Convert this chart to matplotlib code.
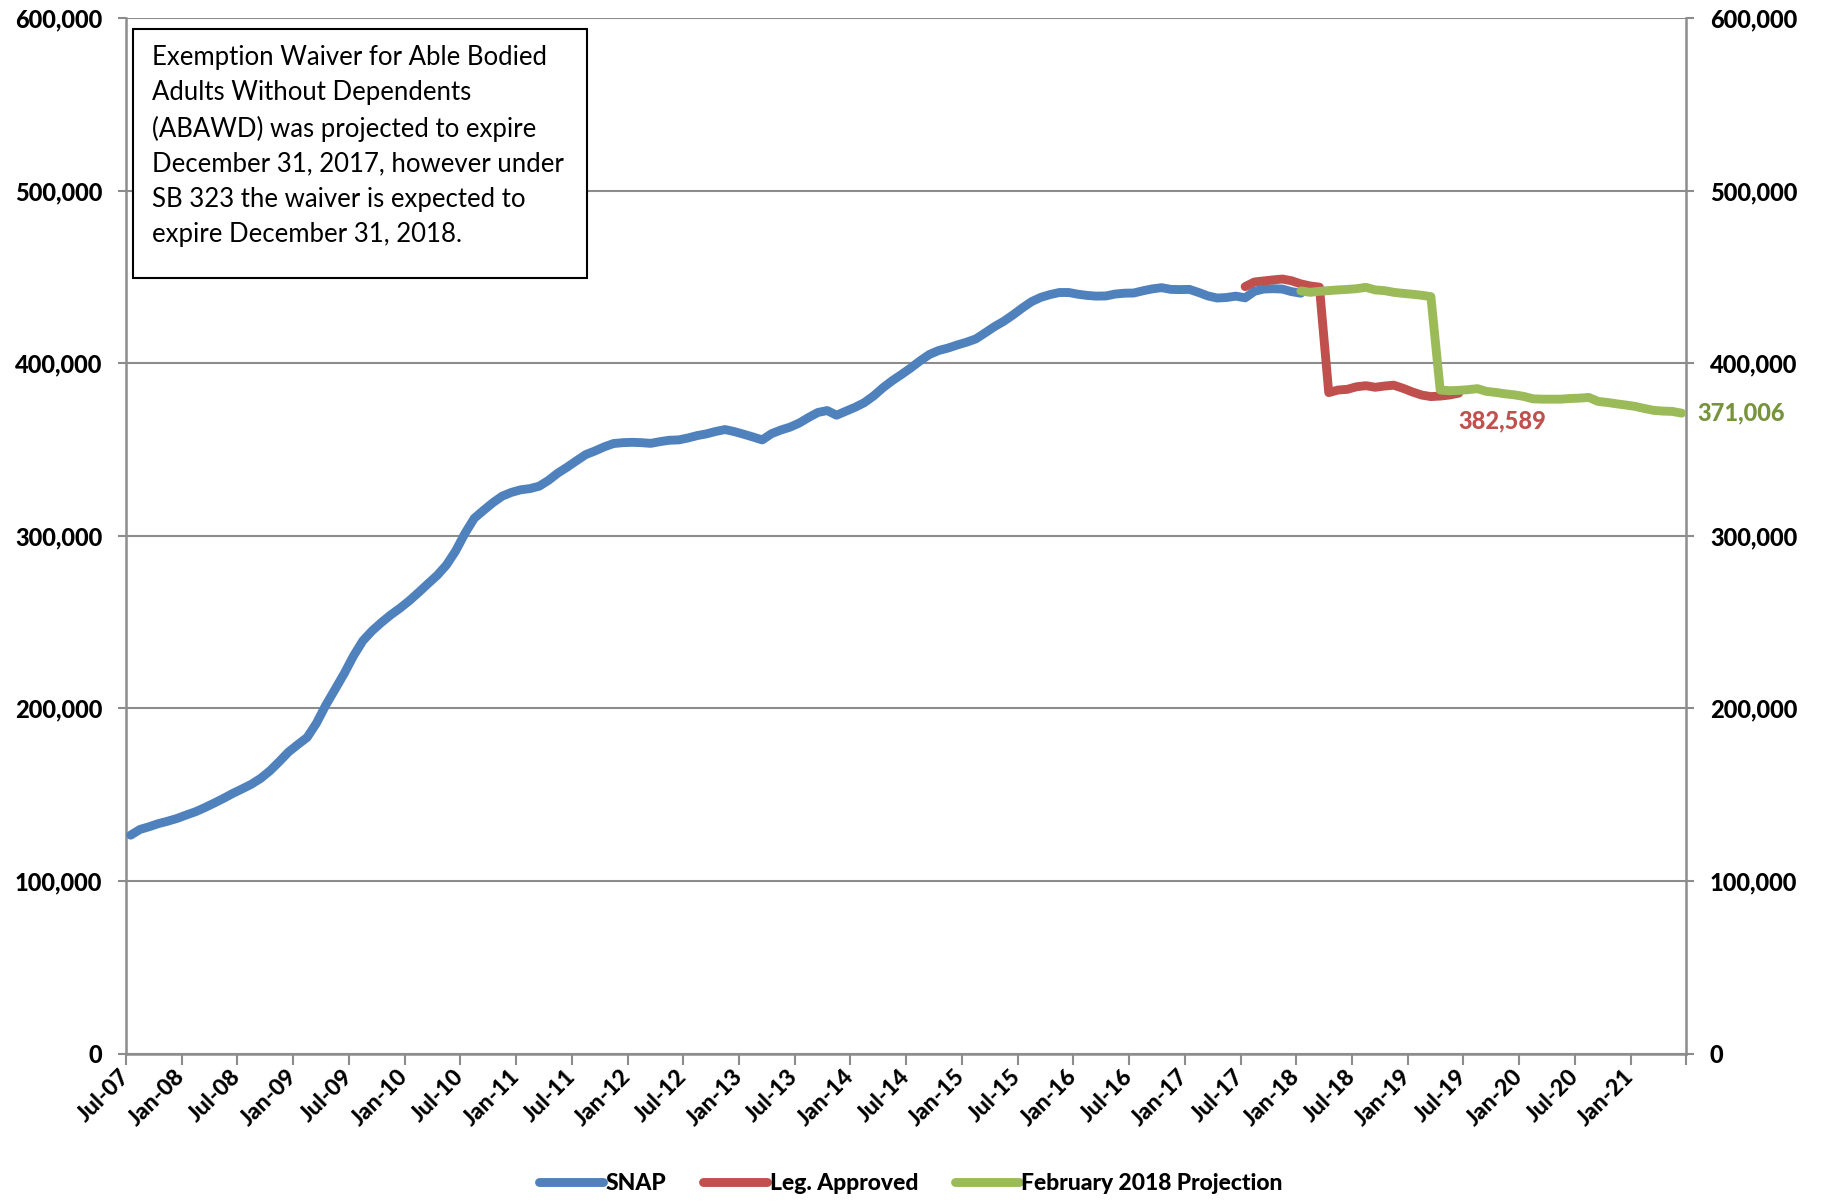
import os

import matplotlib
matplotlib.use("Agg")
import matplotlib.pyplot as plt
import numpy as np
import pandas as pd
from matplotlib import font_manager
from matplotlib.font_manager import FontProperties
from matplotlib.patches import Rectangle
from matplotlib.ticker import FuncFormatter

# monthly categories, Jul-07 .. Jun-21
MONTHS = pd.period_range("2007-07", "2021-06", freq="M")
TICK_LABELS = ["Jul-07", "Jan-08", "Jul-08", "Jan-09", "Jul-09", "Jan-10", "Jul-10",
               "Jan-11", "Jul-11", "Jan-12", "Jul-12", "Jan-13", "Jul-13", "Jan-14",
               "Jul-14", "Jan-15", "Jul-15", "Jan-16", "Jul-16", "Jan-17", "Jul-17",
               "Jan-18", "Jul-18", "Jan-19", "Jul-19", "Jan-20", "Jul-20", "Jan-21", ""]

# SNAP caseload (thousands), Jul-07 .. Jan-18
SNAP_START = "2007-07"
SNAP = [126.5, 129.8, 131.4, 133.2, 134.6, 136.2, 138.2, 140.1, 142.5, 145.1,
        147.8, 150.7, 153.3, 156.0, 159.4, 163.8, 169.1, 174.7, 179.0, 183.1,
        191.3, 201.7, 210.9, 220.2, 230.4, 239.1, 244.9, 249.7, 254.1, 258.0,
        262.3, 267.1, 272.1, 277.0, 283.0, 291.2, 301.4, 310.1, 314.7, 319.1,
        322.9, 325.1, 326.6, 327.3, 328.7, 332.1, 336.3, 339.7, 343.4, 347.0,
        349.1, 351.5, 353.4, 353.9, 354.1, 353.9, 353.5, 354.5, 355.3, 355.5,
        356.6, 358.0, 359.0, 360.4, 361.5, 360.3, 358.8, 357.2, 355.5, 359.1,
        361.2, 362.9, 365.3, 368.5, 371.4, 372.5, 369.8, 372.1, 374.4, 377.1,
        381.0, 385.7, 389.8, 393.4, 397.2, 401.3, 405.0, 407.3, 408.7, 410.5,
        412.1, 414.0, 417.5, 421.1, 424.2, 427.9, 431.9, 435.6, 438.1, 439.7,
        440.9, 440.9, 439.9, 439.2, 438.8, 438.9, 440.0, 440.5, 440.6, 441.9,
        443.0, 443.7, 442.7, 442.6, 442.7, 440.9, 438.9, 437.7, 438.0, 438.8,
        437.8, 441.6, 442.9, 443.1, 442.9, 441.4, 440.5]

# Leg. Approved, Jul-17 .. Jun-19
LEG_START = "2017-07"
LEG = [444.3, 447.0, 447.6, 448.2, 448.7, 447.7, 445.9, 444.7, 444.0, 382.9,
       384.4, 384.8, 386.3, 386.9, 386.0, 386.7, 387.2, 385.4, 383.3, 381.5,
       380.6, 380.9, 381.5, 382.589]

# February 2018 Projection, Jan-18 .. Jun-21
PROJ_START = "2018-01"
PROJ = [441.8, 441.0, 441.6, 442.0, 442.4, 442.7, 443.1, 443.9, 442.4, 442.0,
        441.0, 440.4, 439.9, 439.3, 438.5, 384.4, 384.0, 384.2, 384.6, 385.2,
        383.6, 383.0, 382.2, 381.6, 380.7, 379.3, 379.1, 379.1, 379.1, 379.5,
        379.7, 380.1, 377.8, 377.2, 376.4, 375.7, 374.9, 373.7, 372.6, 372.2,
        372.0, 371.006]

NOTE = ("Exemption Waiver for Able Bodied\n"
        "Adults Without Dependents\n"
        "(ABAWD) was projected to expire\n"
        "December 31, 2017, however under\n"
        "SB 323 the waiver is expected to\n"
        "expire December 31, 2018.")

BLUE = "#4F81BD"
RED = "#C0504D"
GREEN = "#9BBB59"
GREEN_TXT = "#77933C"
GRID = "#8C8C8C"

W, H = 1822, 1202
FONT = "Lato"


def face_file(wanted):
    # Calibri Bold is heavier than Lato Bold, so prefer the Heavy cut
    for base in wanted:
        for f in font_manager.fontManager.ttflist:
            if os.path.basename(f.fname) == base:
                return f.fname
    return font_manager.findfont(FontProperties(family="DejaVu Sans", weight="bold"))


BOLD_PATH = face_file(["Lato-Heavy.ttf", "Lato-ExtraBold.ttf", "Lato-Bold.ttf"])


def bold(size):
    return FontProperties(fname=BOLD_PATH, size=size)


def positions(start, n):
    i0 = MONTHS.get_loc(pd.Period(start, freq="M"))
    return np.arange(i0, i0 + n) + 0.5  # categories sit between tick marks


def fx(px):
    return px / W


def fy(py):
    return 1 - py / H


fig = plt.figure(figsize=(W / 100, H / 100), dpi=100)
fig.set_facecolor("white")
ax = fig.add_axes([fx(126), fy(1053.5), (1686.3 - 126) / W, (1053.5 - 17.9) / H])

lw = 6.4
snap_vals = np.array(SNAP) * 1000
leg_vals = np.array(LEG) * 1000
proj_vals = np.array(PROJ) * 1000

style = dict(lw=lw, solid_capstyle="round", solid_joinstyle="round")
ax.plot(positions(SNAP_START, len(SNAP)), snap_vals, color=BLUE, label="SNAP",
        zorder=3, **style)
ax.plot(positions(LEG_START, len(LEG)), leg_vals, color=RED, label="Leg. Approved",
        zorder=4, **style)
ax.plot(positions(PROJ_START, len(PROJ)), proj_vals, color=GREEN,
        label="February 2018 Projection", zorder=5, **style)

ax.set_xlim(0, len(MONTHS))
ax.set_ylim(0, 600000)
ax.set_xticks(np.arange(0, len(MONTHS) + 1, 6))
ax.set_xticklabels(TICK_LABELS, rotation=45, ha="right", va="center",
                   rotation_mode="anchor", fontproperties=bold(16.5))
ax.set_yticks(np.arange(0, 600001, 100000))
ax.yaxis.set_major_formatter(FuncFormatter(lambda v, _: f"{int(v):,}"))

ax.tick_params(axis="y", which="both", direction="out", length=6, width=1.5,
               color=GRID, pad=11, left=True, right=True,
               labelleft=True, labelright=True)
ax.tick_params(axis="x", direction="out", length=8, width=1.5, color=GRID, pad=6)
for t in ax.yaxis.get_major_ticks():
    t.label1.set_fontproperties(bold(17))
    t.label2.set_fontproperties(bold(17))

ax.grid(axis="y", color=GRID, lw=1.5, zorder=0)
ax.set_axisbelow(True)
for side in ["left", "right", "bottom"]:
    ax.spines[side].set_color(GRID)
    ax.spines[side].set_linewidth(1.8)
ax.spines["top"].set_visible(False)

# end-point labels
ax.annotate(f"{LEG[-1] * 1000:,.0f}", xy=(positions(LEG_START, len(LEG))[-1], leg_vals[-1]),
            xytext=(0, -20), textcoords="offset points", ha="left", va="center",
            color=RED, fontproperties=bold(17))
ax.annotate(f"{PROJ[-1] * 1000:,.0f}", xy=(len(MONTHS), proj_vals[-1]),
            xytext=(8, 0), textcoords="offset points", ha="left", va="center",
            color=GREEN_TXT, fontproperties=bold(17), annotation_clip=False)

# note box
fig.patches.append(Rectangle((fx(132.5), fy(278)), (587 - 132.5) / W, (278 - 29) / H,
                             transform=fig.transFigure, facecolor="white",
                             edgecolor="black", lw=1.5, zorder=10))
fig.text(fx(152), fy(45), NOTE, ha="left", va="top", fontsize=18.5,
         linespacing=1.5, family=FONT, color="black", zorder=11)

fig.legend(loc="center", bbox_to_anchor=(0.5, fy(1184)), ncol=3, frameon=False,
           handlelength=2.8, handletextpad=0.1, columnspacing=1.6,
           prop=bold(16.5))

fig.savefig("out.png", dpi=100, facecolor="white")
